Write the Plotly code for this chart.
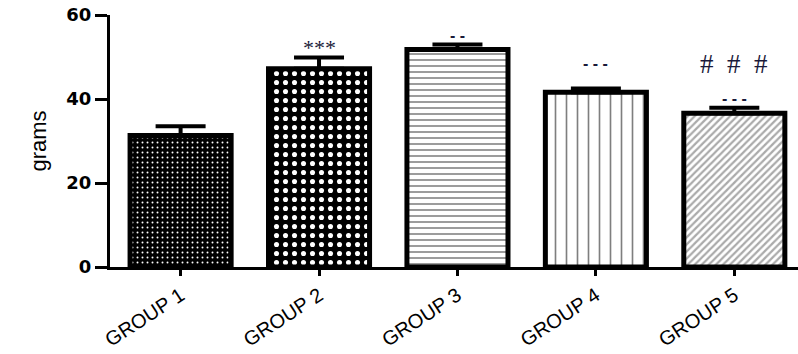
import plotly.graph_objects as go

groups = ["GROUP 1", "GROUP 2", "GROUP 3", "GROUP 4", "GROUP 5"]
means = [31.3, 47.2, 51.8, 41.6, 36.6]
errors = [2.2, 2.7, 1.2, 0.9, 1.3]
sig_marks = ["", "***", "-\u00a0-", "-\u00a0-\u00a0-", "-\u00a0-\u00a0-"]
hash_marks = ["", "", "", "", "#\u00a0\u00a0#\u00a0\u00a0#"]

patterns = [
    dict(shape=".", bgcolor="black", fgcolor="white", size=5, solidity=0.12, fillmode="replace"),
    dict(shape=".", bgcolor="black", fgcolor="white", size=9, solidity=0.25, fillmode="replace"),
    dict(shape="-", bgcolor="white", fgcolor="#222222", size=6, solidity=0.3),
    dict(shape="|", bgcolor="white", fgcolor="black", size=11, solidity=0.15),
    dict(shape="/", bgcolor="white", fgcolor="#555555", size=5, solidity=0.45),
]

fig = go.Figure()
for i, g in enumerate(groups):
    fig.add_trace(go.Bar(
        x=[g], y=[means[i]],
        marker=dict(color="white", line=dict(color="black", width=5), pattern=patterns[i]),
        width=0.73,
        error_y=dict(type="data", symmetric=False, array=[errors[i]], arrayminus=[0],
                     color="black", thickness=4, width=25),
        showlegend=False,
    ))

sig_shift = [0, 10, 9, 25, 9]
for i, g in enumerate(groups):
    if sig_marks[i]:
        is_star = "*" in sig_marks[i]
        fig.add_annotation(x=g, y=means[i] + errors[i], text=sig_marks[i], showarrow=False,
                           yanchor="middle", yshift=sig_shift[i],
                           font=dict(family="Liberation Serif" if is_star else "Liberation Sans",
                                     size=22 if is_star else 16, color="#1a1a3a",
                                     weight="normal" if is_star else "bold"))
    if hash_marks[i]:
        fig.add_annotation(x=g, y=means[i] + errors[i], text=hash_marks[i], showarrow=False,
                           yanchor="middle", yshift=44,
                           font=dict(family="Liberation Serif", size=27, color="#1a1a3a"))

fig.update_layout(
    width=798, height=354,
    margin=dict(l=110, r=0, t=15, b=87),
    paper_bgcolor="white", plot_bgcolor="white",
    bargap=0.27,
    xaxis=dict(
        range=[-0.51, 4.46], showline=True, linecolor="black", linewidth=3,
        ticks="outside", ticklen=6, tickwidth=3, tickcolor="black",
        tickangle=-33, showgrid=False, zeroline=False, automargin=False,
        tickfont=dict(family="Liberation Sans", size=20, color="black"),
    ),
    yaxis=dict(
        range=[0, 60], tickvals=[0, 20, 40, 60], showline=True, linecolor="black", linewidth=3,
        ticks="outside", ticklen=12, tickwidth=3, tickcolor="black",
        showgrid=False, zeroline=False, automargin=False,
        tickfont=dict(family="DejaVu Sans", size=18, color="black", weight="bold"),
        title=dict(text="grams", font=dict(family="Liberation Sans", size=22, color="black"), standoff=14),
    ),
)

fig.write_html("out.html")
